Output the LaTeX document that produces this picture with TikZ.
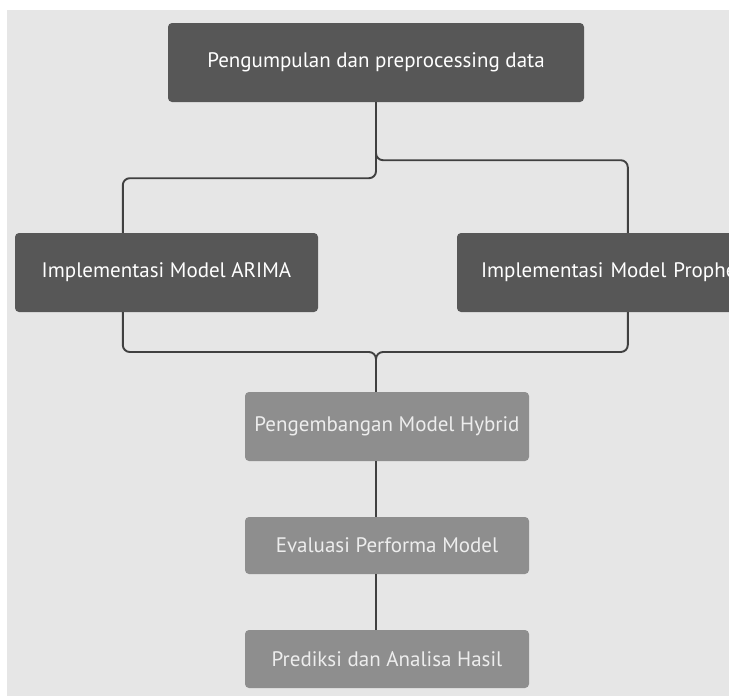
\documentclass[tikz,border=0pt]{standalone}
\usepackage{fontspec}
\setmainfont{PT Sans}
\definecolor{bgcol}{HTML}{E6E6E6}
\definecolor{darkcol}{HTML}{575757}
\definecolor{lightcol}{HTML}{8E8E8E}
\definecolor{linecol}{HTML}{404040}
\begin{document}
\begin{tikzpicture}[x=1pt, y=-1pt,
        darkstep/.style={fill=darkcol, rounded corners=4pt, text=white, inner sep=0pt,
            font=\fontsize{21}{24}\selectfont},
        lightstep/.style={fill=lightcol, rounded corners=4pt, text=white!93!black, inner sep=0pt,
            minimum width=284pt, font=\fontsize{21}{24}\selectfont},
        link/.style={draw=linecol, line width=1.9pt, rounded corners=7pt}]
        \useasboundingbox (0,0) rectangle (729,696);
        \clip (0,0) rectangle (729,696);
        \fill[bgcol] (7,10) rectangle (729,696);

        \node[darkstep, minimum width=416pt, minimum height=79pt] (collect) at (376,62.5) {Pengumpulan dan preprocessing data};
        \node[darkstep, minimum width=303pt, minimum height=79pt] (arima) at (166.5,272.5) {Implementasi Model ARIMA};
        \node[darkstep, text width=295pt, inner xsep=24pt, minimum height=79pt, align=left] (prophet) at (628.5,272.5) {Implementasi Model Prophet};
        \node[lightstep, minimum height=69pt] (hybrid) at (387,426.5) {Pengembangan Model Hybrid};
        \node[lightstep, minimum height=57pt] (evaluasi) at (387,545.5) {Evaluasi Performa Model};
        \node[lightstep, minimum height=58pt] (prediksi) at (387,659) {Prediksi dan Analisa Hasil};

        \coordinate (merge) at (376,352);

        \draw[link] (collect.south) -- ++(0,58) -| ([xshift=171pt]prophet.north west);
        \draw[link] (collect.south) -- ++(0,76) -| ([xshift=108pt]arima.north west);
        \draw[link] ([xshift=108pt]arima.south west) |- (merge) -- (merge |- hybrid.north);
        \draw[link] ([xshift=171pt]prophet.south west) |- (merge) -- (merge |- hybrid.north);
        \draw[link] (merge |- hybrid.south) -- (merge |- evaluasi.north);
        \draw[link] (merge |- evaluasi.south) -- (merge |- prediksi.north);

    \end{tikzpicture}
\end{document}
